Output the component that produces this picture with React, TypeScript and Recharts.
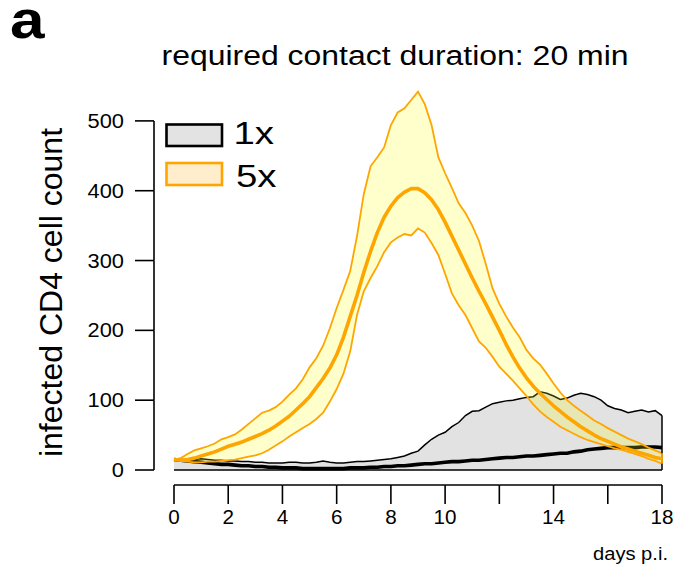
import React from 'react';
import { ComposedChart, Area, Line, XAxis, YAxis, ReferenceLine } from 'recharts';

// ---------------- data ----------------
const DAYS = [
  0, 0.25, 0.5, 0.75, 1, 1.25, 1.5, 1.75, 2, 2.25, 2.5, 2.75, 3, 3.25, 3.5, 3.75,
  4, 4.25, 4.5, 4.75, 5, 5.25, 5.5, 5.75, 6, 6.25, 6.5, 6.75, 7, 7.25, 7.5, 7.75,
  8, 8.25, 8.5, 8.75, 9, 9.25, 9.5, 9.75, 10, 10.25, 10.5, 10.75, 11, 11.25, 11.5, 11.75,
  12, 12.25, 12.5, 12.75, 13, 13.25, 13.5, 13.75, 14, 14.25, 14.5, 14.75, 15, 15.25, 15.5, 15.75,
  16, 16.25, 16.5, 16.75, 17, 17.25, 17.5, 17.75, 18,
];

// 5x: mean, lower and upper bound
const MEAN_5X = [
  15, 14, 15, 17, 20, 23, 26, 30, 34, 37, 40, 44, 48, 52, 57, 63,
  70, 77, 86, 95, 105, 118, 131, 146, 165, 190, 220, 250, 283, 313, 340, 362,
  378, 390, 398, 403, 403, 397, 387, 373, 355, 335, 315, 295, 275, 256, 238, 219,
  200, 180, 162, 146, 132, 120, 110, 101, 92, 84, 76, 69, 62, 56, 50, 45,
  41, 37, 33, 30, 27, 24, 21, 18, 16,
];
const LOW_5X = [
  15, 13, 12, 11, 11, 12, 12, 13, 14, 15, 17, 19, 21, 24, 29, 35,
  41, 48, 54, 60, 66, 73, 82, 98, 116, 138, 170, 222, 256, 275, 292, 312,
  326, 333, 338, 336, 346, 340, 325, 308, 281, 253, 236, 222, 203, 184, 175, 162,
  148, 138, 128, 117, 106, 94, 84, 76, 69, 62, 57, 52, 47, 43, 40, 37,
  34, 31, 29, 26, 23, 20, 16, 13, 9,
];
const HIGH_5X = [
  15, 17, 23, 28, 31, 34, 38, 44, 47, 51, 58, 66, 74, 82, 85, 90,
  98, 108, 117, 130, 147, 160, 178, 203, 232, 258, 285, 335, 395, 435, 448, 462,
  494, 512, 518, 530, 542, 524, 494, 448, 425, 404, 382, 368, 350, 328, 295, 260,
  238, 220, 204, 190, 172, 160, 151, 138, 124, 111, 100, 92, 85, 78, 71, 66,
  60, 55, 50, 45, 41, 37, 32, 28, 24,
];

// 1x: mean and upper bound (lower bound is 0)
const MEAN_1X = [
  15, 14, 13, 12, 11, 10, 9, 8, 8, 7, 6, 6, 5, 5, 4, 4,
  3, 3, 3, 2, 2, 2, 2, 2, 2, 2, 3, 3, 3, 4, 4, 5,
  5, 6, 6, 7, 8, 9, 9, 10, 11, 12, 12, 13, 14, 14, 15, 16,
  17, 18, 18, 19, 20, 20, 21, 22, 23, 24, 24, 26, 27, 29, 30, 31,
  32, 32, 32, 32, 32, 33, 33, 33, 32,
];
const HIGH_1X = [
  15, 14, 14, 15, 16, 15, 14, 14, 13, 13, 12, 12, 11, 11, 10, 10,
  10, 11, 11, 10, 10, 11, 13, 11, 10, 10, 11, 12, 12, 13, 14, 15,
  16, 18, 20, 24, 27, 36, 44, 50, 54, 62, 68, 78, 84, 85, 90, 95,
  97, 99, 100, 102, 104, 105, 112, 110, 106, 101, 103, 107, 110, 108, 105, 100,
  92, 88, 86, 82, 84, 86, 83, 85, 78,
];
const LOW_1X_VALUE = 0;

const X_TICKS = [0, 2, 4, 6, 8, 10, 12, 14, 16, 18];
const X_LABELS = ['0', '2', '4', '6', '8', '10', '', '14', '', '18'];
const Y_TICKS = [0, 100, 200, 300, 400, 500];

const SERIES_NAMES = ['1x', '5x'];
const TITLE = 'required contact duration: 20 min';
const PANEL = 'a';
const Y_LABEL = 'infected CD4 cell count';
const X_LABEL = 'days p.i.';

const rows = DAYS.map((t, i) => ({
  t,
  mean5: MEAN_5X[i],
  band5: [LOW_5X[i], HIGH_5X[i]],
  mean1: MEAN_1X[i],
  band1: [LOW_1X_VALUE, HIGH_1X[i]],
}));

// ---------------- layout / style ----------------
const W = 676;
const H = 571;
const PLOT_LEFT = 154;
const PLOT_TOP = 79;
const PLOT_RIGHT = 662;
const PLOT_BOTTOM = 485;
const PAD_L = 20;
const PAD_B = 15;
const Y_AXIS_W = 60;
const X_AXIS_H = 40;
const Y_MAX = 560;
const TICK_SIZE = 19;
const X_TICK_MARGIN = 2;
const Y_TICK_MARGIN = 11;
const STEP_X = (PLOT_RIGHT - PLOT_LEFT - PAD_L) / (X_TICKS.length - 1);
const STEP_Y = ((PLOT_BOTTOM - PLOT_TOP - PAD_B) / Y_MAX) * (Y_TICKS[1] - Y_TICKS[0]);
const TICK_SX = 1.06;
const FONT = '"Liberation Sans", Arial, Helvetica, sans-serif';
const ORANGE = '#ffa500';
const AXIS_W = 1.6;

const XTick = (props: any) => {
  const { x, y, payload } = props;
  const i = X_TICKS.indexOf(payload.value);
  const axisY = y - TICK_SIZE - X_TICK_MARGIN;
  return (
    <g>
      {i > 0 && (
        <line x1={x - STEP_X} x2={x} y1={axisY} y2={axisY} stroke="#000" strokeWidth={AXIS_W} />
      )}
      <text
        transform={`translate(${x},${y + 18}) scale(${TICK_SX},1)`}
        textAnchor="middle"
        fontSize={19.5}
        fontFamily={FONT}
        fill="#000"
      >
        {X_LABELS[i]}
      </text>
    </g>
  );
};

const YTick = (props: any) => {
  const { x, y, payload } = props;
  const axisX = x + TICK_SIZE + Y_TICK_MARGIN;
  const isTop = payload.value === Y_TICKS[Y_TICKS.length - 1];
  return (
    <g>
      {!isTop && (
        <line x1={axisX} x2={axisX} y1={y} y2={y - STEP_Y} stroke="#000" strokeWidth={AXIS_W} />
      )}
      <text
        transform={`translate(${x},${y + 7}) scale(1.12,1)`}
        textAnchor="end"
        fontSize={19.5}
        fontFamily={FONT}
        fill="#000"
      >
        {payload.value}
      </text>
    </g>
  );
};

export default function App() {
  const last = DAYS.length - 1;
  return (
    <div style={{ position: 'relative', width: W, height: H, fontFamily: FONT, overflow: 'hidden' }}>
      <style>{'html,body{margin:0;padding:0;overflow:hidden;}'}</style>
      <ComposedChart
        width={W}
        height={H}
        data={rows}
        margin={{
          top: PLOT_TOP,
          right: W - PLOT_RIGHT,
          left: PLOT_LEFT - Y_AXIS_W,
          bottom: H - PLOT_BOTTOM - X_AXIS_H,
        }}
      >
        <XAxis
          dataKey="t"
          type="number"
          domain={[X_TICKS[0], X_TICKS[X_TICKS.length - 1]]}
          ticks={X_TICKS}
          interval={0}
          padding={{ left: PAD_L, right: 0 }}
          height={X_AXIS_H}
          axisLine={false}
          tickLine={{ stroke: '#000', strokeWidth: AXIS_W }}
          tickSize={TICK_SIZE}
          tickMargin={X_TICK_MARGIN}
          tick={<XTick />}
        />
        <YAxis
          type="number"
          domain={[0, Y_MAX]}
          ticks={Y_TICKS}
          interval={0}
          padding={{ top: 0, bottom: PAD_B }}
          width={Y_AXIS_W}
          axisLine={false}
          tickLine={{ stroke: '#000', strokeWidth: AXIS_W }}
          tickSize={TICK_SIZE}
          tickMargin={Y_TICK_MARGIN}
          tick={<YTick />}
        />
        <Area
          dataKey="band1"
          type="linear"
          fill="#e2e2e2"
          fillOpacity={1}
          stroke="#000"
          strokeWidth={1.5}
          dot={false}
          activeDot={false}
          isAnimationActive={false}
        />
        <ReferenceLine
          segment={[
            { x: DAYS[last], y: LOW_1X_VALUE },
            { x: DAYS[last], y: HIGH_1X[last] },
          ]}
          stroke="#000"
          strokeWidth={1.5}
        />
        <Area
          dataKey="mean1"
          type="linear"
          fill="none"
          fillOpacity={0}
          stroke="#000"
          strokeWidth={3.6}
          dot={false}
          activeDot={false}
          isAnimationActive={false}
        />
        <Area
          dataKey="band5"
          type="linear"
          fill="#ffff00"
          fillOpacity={0.2}
          stroke={ORANGE}
          strokeWidth={1.8}
          dot={false}
          activeDot={false}
          isAnimationActive={false}
        />
        <ReferenceLine
          segment={[
            { x: DAYS[last], y: LOW_5X[last] },
            { x: DAYS[last], y: HIGH_5X[last] },
          ]}
          stroke={ORANGE}
          strokeWidth={1.8}
        />
        <Line
          dataKey="mean5"
          type="linear"
          stroke={ORANGE}
          strokeWidth={3.6}
          strokeLinejoin="round"
          dot={false}
          activeDot={false}
          isAnimationActive={false}
        />
      </ComposedChart>
      <div
        style={{
          position: 'absolute',
          left: 10,
          top: 4,
          fontSize: 54,
          lineHeight: '30px',
          fontWeight: 'bold',
          fontFamily: FONT,
          color: '#000',
          transform: 'scaleX(1.15)',
          transformOrigin: 'left center',
          whiteSpace: 'nowrap',
        }}
      >
        {PANEL}
      </div>
      <svg
        width={W}
        height={H}
        style={{ position: 'absolute', left: 0, top: 0, pointerEvents: 'none' }}
      >
        <text
          x={161.5}
          y={65}
          textLength={467}
          lengthAdjust="spacingAndGlyphs"
          fontSize={27}
          fontFamily={FONT}
          fill="#000"
        >
          {TITLE}
        </text>
        <text
          transform="translate(61.5,292.5) rotate(-90)"
          textAnchor="middle"
          fontSize={32}
          fontFamily={FONT}
          fill="#000"
        >
          {Y_LABEL}
        </text>
        <text
          x={593}
          y={560}
          textLength={75}
          lengthAdjust="spacingAndGlyphs"
          fontSize={17.5}
          fontFamily={FONT}
          fill="#000"
        >
          {X_LABEL}
        </text>
        <rect x={166.5} y={124.5} width={55.5} height={21.5} fill="#e3e3e3" stroke="#000" strokeWidth={2.6} />
        <rect x={166.5} y={163} width={55.5} height={22} fill="#ffedcc" stroke={ORANGE} strokeWidth={2.6} />
        <text
          transform="translate(233.5,144) scale(1.2,1)"
          fontSize={32}
          fontFamily={FONT}
          fill="#000"
        >
          {SERIES_NAMES[0]}
        </text>
        <text
          transform="translate(236,186.5) scale(1.2,1)"
          fontSize={32}
          fontFamily={FONT}
          fill="#000"
        >
          {SERIES_NAMES[1]}
        </text>
      </svg>
    </div>
  );
}
